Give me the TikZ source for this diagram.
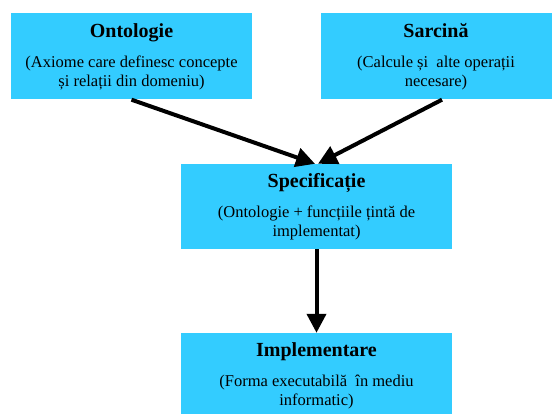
\documentclass[tikz,border=0pt]{standalone}
\usepackage{fontspec}
\setmainfont{Liberation Serif}
\usetikzlibrary{arrows.meta}
\definecolor{boxcyan}{HTML}{33CCFF}

\begin{document}
\begin{tikzpicture}[x=1pt, y=-1pt,
    box/.style={rectangle, fill=boxcyan, minimum height=86pt, align=center, inner sep=0pt,
        font=\fontsize{16.5}{19}\selectfont},
    arrow/.style={-{Triangle[width=19pt,length=19pt]}, line width=4pt, black}
]
\useasboundingbox (0,0) rectangle (553,414);
\node[box, minimum width=241pt] (onto) at (131.5,56.5)
    {{\fontsize{20}{22}\selectfont\bfseries Ontologie}\\[11pt](Axiome care definesc concepte\\ și relații din domeniu)};
\node[box, minimum width=231pt] (task) at (436,56.5)
    {{\fontsize{20}{22}\selectfont\bfseries Sarcină}\\[11pt](Calcule și\ \ alte operații\\ necesare)};
\node[box, minimum width=271pt, minimum height=85pt] (spec) at (316.5,206.5)
    {{\fontsize{20}{22}\selectfont\bfseries Specificație}\\[11pt](Ontologie + funcțiile țintă de\\ implementat)};
\node[box, minimum width=271pt, minimum height=86pt] (impl) at (316.5,376)
    {{\fontsize{20}{22}\selectfont\bfseries Implementare}\\[11pt](Forma executabilă\ \ în mediu\\ informatic)};
\draw[arrow] (onto.south) -- ([xshift=-1.5pt]spec.north);
\draw[arrow] ([xshift=6pt]task.south) -- ([xshift=1.5pt]spec.north);
\draw[arrow] (spec.south) -- (impl.north);
\end{tikzpicture}
\end{document}
